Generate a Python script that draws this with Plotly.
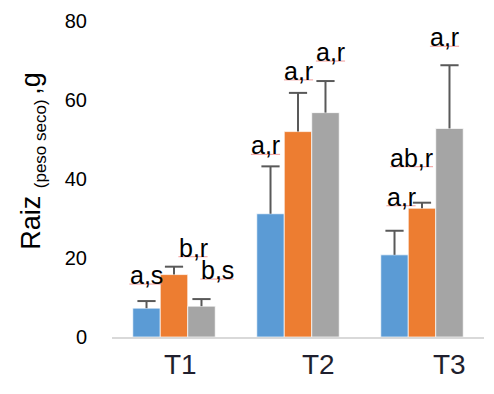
import plotly.graph_objects as go

# Treatments on the category axis
categories = ["T1", "T2", "T3"]

# Root dry weight (g) per series, with standard-error bars
blue_values = [7.3, 31.2, 20.8]
blue_errors = [1.8, 12.0, 6.1]
orange_values = [15.8, 52.0, 32.6]
orange_errors = [2.0, 9.8, 1.4]
gray_values = [7.8, 56.8, 52.8]
gray_errors = [1.8, 8.0, 16.0]

# Significance letters above each bar
blue_letters = ["a,s", "a,r", "a,r"]
orange_letters = ["b,r", "a,r", "ab,r"]
gray_letters = ["b,s", "a,r", "a,r"]

y_ticks = [0, 20, 40, 60, 80]

colors = ["#5B9BD5", "#ED7D31", "#A5A5A5"]
FONT = "Liberation Sans, Arial, sans-serif"
ERR_COLOR = "#595959"
GAP = 0.335
LABEL_SIZE = 25

series = [
    (blue_values, blue_errors, blue_letters),
    (orange_values, orange_errors, orange_letters),
    (gray_values, gray_errors, gray_letters),
]

fig = go.Figure()
for si, ((vals, errs, _), col) in enumerate(zip(series, colors)):
    # bar with an upward whisker only (no caps on the whisker itself)
    fig.add_trace(go.Bar(
        x=categories, y=vals, offsetgroup=str(si),
        marker=dict(color=col, line=dict(color="rgba(255,255,255,0.7)", width=1)),
        error_y=dict(type="data", array=errs, arrayminus=[0] * len(errs),
                     symmetric=False, visible=True,
                     color=ERR_COLOR, thickness=2, width=0),
        showlegend=False,
    ))
for si, (vals, errs, _) in enumerate(series):
    # cap on top of each whisker
    fig.add_trace(go.Scatter(
        x=categories, y=[v + e for v, e in zip(vals, errs)],
        offsetgroup=str(si), mode="markers",
        marker=dict(symbol="line-ew", size=13,
                    line=dict(color=ERR_COLOR, width=2)),
        showlegend=False, hoverinfo="skip",
    ))

# Approximate advance widths (em) for the letter labels, used for the underline
char_em = {"a": 0.556, "b": 0.556, "r": 0.333, "s": 0.5, ",": 0.278}

# Letter placement: pixel nudges relative to the top of each error bar
bar_px = 27.5
label_nudges = [
    [(-0.5, 26), (19, 19), (15.5, 29)],
    [(-5, 21), (0.5, 22), (5, 29)],
    [(6.5, 34), (-10.5, 45), (-5, 28)],
]
for ci, cat in enumerate(categories):
    for si, (vals, errs, letters) in enumerate(series):
        dx, dy = label_nudges[ci][si]
        xs = (si - 1) * bar_px + dx
        top = vals[ci] + errs[ci]
        fig.add_annotation(
            x=cat, y=top, xref="x", yref="y",
            text=letters[ci], showarrow=False,
            xshift=xs, yshift=dy,
            yanchor="middle", xanchor="center",
            font=dict(family=FONT, size=LABEL_SIZE, color="#000000"),
        )
        # pink proofing underline beneath the label
        half = sum(char_em[c] for c in letters[ci]) * LABEL_SIZE / 2
        fig.add_shape(
            type="line", xref="x", yref="y",
            xsizemode="pixel", ysizemode="pixel",
            xanchor=cat, yanchor=top,
            x0=xs - half, x1=xs + half, y0=dy - 9, y1=dy - 9,
            line=dict(color="rgba(238,130,130,0.8)", width=1),
            layer="above",
        )

# Category labels under the axis
cat_nudges = [6.5, 20, 27]
for cat, dx in zip(categories, cat_nudges):
    fig.add_annotation(
        x=cat, y=0, xref="x", yref="paper", text=cat, showarrow=False,
        xshift=dx, yshift=-27, yanchor="middle", xanchor="center",
        font=dict(family=FONT, size=28, color="#1f1f2e"),
    )

# Rotated y-axis title with the subscript note (placed in pixels, converted below)
plot_w = 494 - 112 - 10
plot_h = 394 - 17 - 57
fig.add_annotation(
    x=(33 - 112) / plot_w, y=(394 - 57 - 158.5) / plot_h,
    xref="paper", yref="paper",
    text='Raiz <sub><span style="font-size:17px">(peso seco) </span></sub>,g',
    textangle=-90, showarrow=False, xanchor="center", yanchor="middle",
    font=dict(family=FONT, size=27, color="#000000"),
)

fig.update_layout(
    width=494, height=394,
    margin=dict(l=112, r=10, t=17, b=57),
    paper_bgcolor="white", plot_bgcolor="white",
    barmode="group", bargap=GAP, bargroupgap=0,
    scattermode="group", scattergap=GAP,
    font=dict(family=FONT, color="#000000"),
    xaxis=dict(showticklabels=False, ticks="", showgrid=False,
               showline=True, linecolor="#D9D9D9", linewidth=2),
    yaxis=dict(range=[0, 80], tickvals=y_ticks, showgrid=False, zeroline=False,
               showline=False, ticks="outside", ticklen=20,
               tickcolor="rgba(0,0,0,0)",
               tickfont=dict(family=FONT, size=20, color="#000000")),
)

fig.write_html("out.html")
